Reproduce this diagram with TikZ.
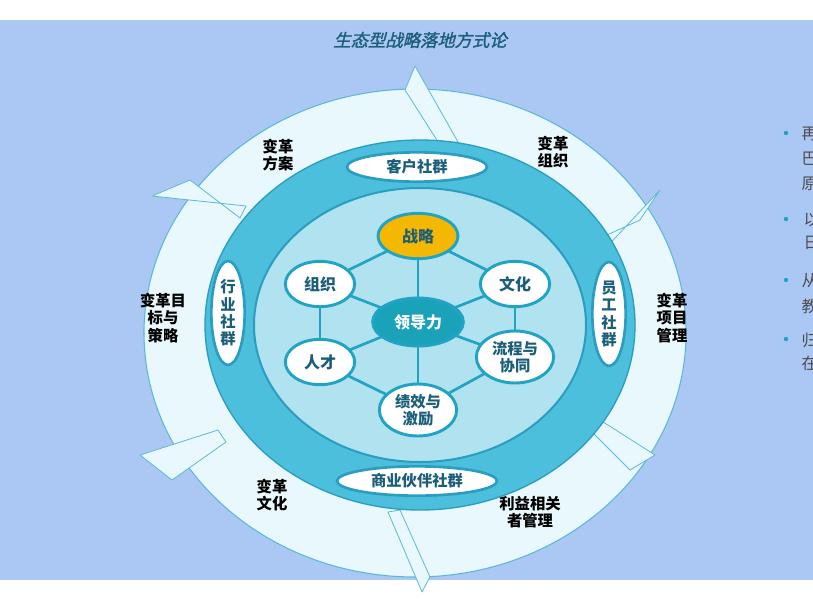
\documentclass[tikz,border=0pt]{standalone}
\usepackage{fontspec}
\usetikzlibrary{shapes.geometric}
\setmainfont{Noto Sans CJK SC}
\newfontfamily\cjki[FakeSlant=0.25,FakeBold=1.5]{Noto Sans CJK SC}
\definecolor{bg}{HTML}{ABC8F5}
\definecolor{ring}{HTML}{E8F8FC}
\definecolor{ringb}{HTML}{5DB8D8}
\definecolor{mid}{HTML}{4CBFDC}
\definecolor{midb}{HTML}{2A9DC0}
\definecolor{inn}{HTML}{B0E2EF}
\definecolor{nodeb}{HTML}{21A3C4}
\definecolor{ntext}{HTML}{1B5E7A}
\definecolor{gold}{HTML}{F5B800}
\definecolor{lead}{HTML}{1AA2B8}
\tikzset{
 inode/.style={ellipse,draw=nodeb,line width=2.2pt,fill=white,minimum width=52pt,minimum height=34pt,inner sep=0pt,font=\bfseries\fontsize{12}{13}\selectfont,text=ntext,align=center},
 comm/.style={ellipse,draw=midb,line width=2pt,fill=white,inner sep=0pt,font=\bfseries\fontsize{11.5}{13}\selectfont,text=ntext,align=center},
 olab/.style={font=\bfseries\fontsize{11.5}{13}\selectfont,text=black,align=center},
 spoke/.style={draw=nodeb,line width=2pt},
 spike/.style={fill=ring,draw=ringb,line width=0.6pt,line join=round},
 side/.style={font=\fontsize{12}{14}\selectfont,text=black!70,anchor=west}
}
\begin{document}
\begin{tikzpicture}[x=0.75pt,y=-0.75pt]
\useasboundingbox (0,0) rectangle (813,600);
\fill[white] (0,0) rectangle (813,600);
\fill[bg] (0,20) rectangle (813,580);
\draw[fill=ring,draw=ringb,line width=0.8pt] (415,333) ellipse [x radius=271,y radius=244];
\draw[spike] (405,90) -- (415,66) -- (458,142) -- (440,145) -- cycle;
\draw[spike] (190,180) -- (152,196) -- (246,206) -- (240,218) -- cycle;
\draw[spike] (640,220) -- (660,190) -- (602,252) -- (596,240) -- cycle;
\draw[spike] (172,480) -- (140,455) -- (218,430) -- (226,442) -- cycle;
\draw[spike] (655,455) -- (630,470) -- (590,430) -- (600,420) -- cycle;
\draw[spike] (430,577) -- (422,592) -- (388,512) -- (400,510) -- cycle;
\draw[fill=mid,draw=midb,line width=1pt] (420,325) ellipse [x radius=215,y radius=185];
\draw[fill=inn,draw=midb,line width=1.5pt] (420,325) ellipse [x radius=166,y radius=137];
\node[comm,minimum width=105pt,minimum height=22pt] (kh) at (417,167) {客户社群};
\node[comm,minimum width=120pt,minimum height=22pt] (sy) at (417,481) {商业伙伴社群};
\node[comm,minimum width=25pt,minimum height=78pt] (hy) at (228,313) {行\\业\\社\\群};
\node[comm,minimum width=25pt,minimum height=78pt] (yg) at (609,314) {员\\工\\社\\群};
\coordinate (cld) at (418,322);
\coordinate (czl) at (418,236);
\coordinate (czz) at (320,284);
\coordinate (cwh) at (515,284);
\coordinate (crc) at (320,362);
\coordinate (clc) at (515,357);
\coordinate (cjx) at (418,410);
\foreach \n in {czl,czz,cwh,crc,clc,cjx}{\draw[spoke] (cld) -- (\n);}
\draw[spoke] (czl) -- (czz); \draw[spoke] (czl) -- (cwh);
\draw[spoke] (czz) -- (crc); \draw[spoke] (cwh) -- (clc);
\draw[spoke] (crc) -- (cjx); \draw[spoke] (clc) -- (cjx);
\node[inode,fill=lead,text=white,minimum width=68pt,minimum height=36pt] (ld) at (cld) {领导力};
\node[inode,fill=gold,minimum width=60pt] (zl) at (czl) {战略};
\node[inode] (zz) at (czz) {组织};
\node[inode] (wh) at (cwh) {文化};
\node[inode] (rc) at (crc) {人才};
\node[inode,font=\bfseries\fontsize{11.5}{13}\selectfont,minimum width=58pt,minimum height=39pt] (lc) at (clc) {流程与\\协同};
\node[inode,font=\bfseries\fontsize{11.5}{13}\selectfont,minimum width=58pt,minimum height=39pt] (jx) at (cjx) {绩效与\\激励};
\node[olab] (l1) at (278,155) {变革\\方案};
\node[olab] (l2) at (553,152) {变革\\组织};
\node[olab] (l3) at (163,318) {变革目\\标与\\策略};
\node[olab] (l4) at (672,318) {变革\\项目\\管理};
\node[olab] (l5) at (272,495) {变革\\文化};
\node[olab] (l6) at (530,512) {利益相关\\者管理};
\node[font=\cjki\fontsize{13}{15}\selectfont,text=ntext] (t) at (420,40) {生态型战略落地方式论};
\begin{scope}
\clip (760,100) rectangle (813,400);
\foreach \y in {133,219,280,339}{\fill[nodeb] (786,\y) circle (2.2);}
\node[side] (s1) at (797,134) {再};
\node[side] (s2) at (797,159) {巴};
\node[side] (s3) at (797,184) {原};
\node[side] (s4) at (799,220) {以};
\node[side] (s5) at (799,243) {日};
\node[side] (s6) at (797,281) {从};
\node[side] (s7) at (797,306) {教};
\node[side] (s8) at (797,340) {归};
\node[side] (s9) at (797,363) {在};
\end{scope}
\end{tikzpicture}
\end{document}
